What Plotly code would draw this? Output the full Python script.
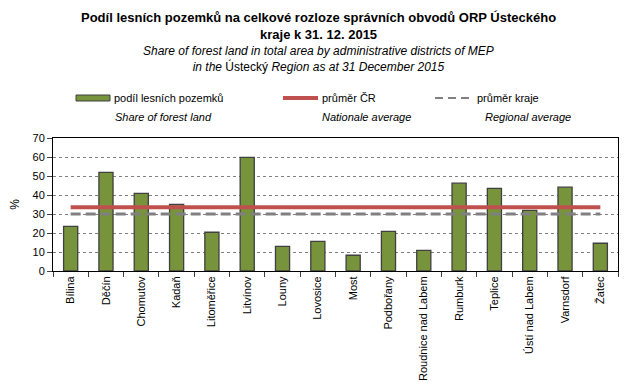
import plotly.graph_objects as go

districts = ["Bílina", "Děčín", "Chomutov", "Kadaň", "Litoměřice", "Litvínov", "Louny",
             "Lovosice", "Most", "Podbořany", "Roudnice nad Labem", "Rumburk", "Teplice",
             "Ústí nad Labem", "Varnsdorf", "Žatec"]
forest_share = [23.5, 51.9, 40.9, 35.1, 20.4, 59.8, 13.0, 15.6, 8.3, 20.9, 10.9, 46.2, 43.5, 31.9, 44.1, 14.6]
national_avg = 33.5
regional_avg = 30.0

FONT = "Liberation Sans, Arial, sans-serif"

# page body has an 8px default margin: compensate so the chart lands where intended
OFF = 8
W, H = 632, 388
plot_l, plot_r, plot_t, plot_b = 53, 618, 138, 271
pw, ph = plot_r - plot_l, plot_b - plot_t

def px(x):
    return (x - plot_l) / pw

def py(y):
    return (plot_b - y) / ph

fig = go.Figure()
fig.add_trace(go.Bar(x=districts, y=forest_share, width=0.4,
                     marker=dict(color="#77933C", line=dict(color="#404040", width=1.3)),
                     showlegend=False))
fig.add_trace(go.Scatter(x=districts, y=[regional_avg] * len(districts), mode="lines",
                         line=dict(color="#808080", width=3, dash="10px,5px"), showlegend=False))
fig.add_trace(go.Scatter(x=districts, y=[national_avg] * len(districts), mode="lines",
                         line=dict(color="#C0504D", width=4), showlegend=False))

title_text = ("<b>Podíl lesních pozemků na celkové rozloze správních obvodů ORP Ústeckého<br>"
              "kraje k 31. 12. 2015</b>")
sub_text = ("<i>Share of forest land in total area by administrative districts of MEP</i><br>"
            "<i>in the </i>Ústecký<i> Region as at 31 December 2015</i>")

annotations = [
    dict(text=title_text, x=px(318), y=py(26), xref="paper", yref="paper", showarrow=False,
         font=dict(size=13, family=FONT, color="black"), xanchor="center", yanchor="middle"),
    dict(text=sub_text, x=px(318), y=py(59), xref="paper", yref="paper", showarrow=False,
         font=dict(size=12, family=FONT, color="black"), xanchor="center", yanchor="middle"),
]

shapes = [
    dict(type="rect", xref="paper", yref="paper", x0=px(76), x1=px(110), y0=py(101), y1=py(95),
         fillcolor="#77933C", line=dict(color="#404040", width=1)),
    dict(type="line", xref="paper", yref="paper", x0=px(283), x1=px(318), y0=py(98), y1=py(98),
         line=dict(color="#C0504D", width=4)),
    dict(type="line", xref="paper", yref="paper", x0=px(435), x1=px(473), y0=py(98), y1=py(98),
         line=dict(color="#808080", width=2, dash="8px,5px")),
]

leg_items = [
    ("podíl lesních pozemků", 112, 98, False),
    ("průměr ČR", 320, 98, False),
    ("průměr kraje", 475, 98, False),
    ("Share of forest land", 113, 117, True),
    ("Nationale average", 320, 117, True),
    ("Regional average", 483, 117, True),
]
for txt, x, y, it in leg_items:
    annotations.append(dict(text=f"<i>{txt}</i>" if it else txt, x=px(x), y=py(y),
                            xref="paper", yref="paper", showarrow=False, xanchor="left",
                            yanchor="middle", font=dict(size=11, family=FONT, color="black")))

fig.update_layout(
    width=W - OFF, height=H - OFF,
    margin=dict(l=plot_l - OFF, r=W - plot_r, t=plot_t - OFF, b=H - plot_b, pad=0),
    paper_bgcolor="white", plot_bgcolor="white",
    font=dict(family=FONT, size=11, color="black"),
    annotations=annotations, shapes=shapes,
    bargap=0.6,
)
fig.update_xaxes(type="category", tickangle=-90, tickson="boundaries", ticks="outside",
                 ticklen=5, tickcolor="#404040", showline=True, linecolor="black", mirror=True,
                 tickfont=dict(size=11, family=FONT), showgrid=False, automargin=False)
fig.update_yaxes(range=[0, 70], dtick=10, ticks="outside", ticklen=5, tickcolor="#404040",
                 showline=True, linecolor="black", mirror=True, showgrid=True,
                 gridcolor="#808080", griddash="dot", gridwidth=1, zeroline=False,
                 tickfont=dict(size=11, family=FONT), automargin=False,
                 title=dict(text="%", font=dict(size=12, family=FONT), standoff=12))

fig.write_html("out.html")
